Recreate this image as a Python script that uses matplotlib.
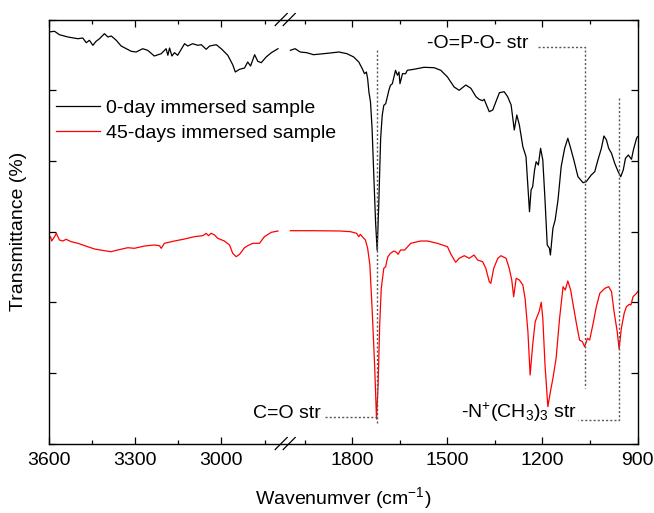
import numpy as np
import matplotlib
matplotlib.use('Agg')
import matplotlib.pyplot as plt

plt.rcParams['font.family'] = ['Liberation Sans', 'DejaVu Sans']
plt.rcParams['mathtext.fontset'] = 'custom'
plt.rcParams['mathtext.rm'] = 'Liberation Sans'
plt.rcParams['mathtext.it'] = 'Liberation Sans:italic'

# 0-day sample, high wavenumber part (left of the break)
wn_black_left = [3600, 3579, 3562, 3533, 3498, 3481, 3469, 3458, 3446, 3435,
                 3423, 3406, 3394, 3382, 3365, 3348, 3313, 3296, 3273, 3256,
                 3233, 3209, 3192, 3186, 3180, 3172, 3163, 3152, 3128, 3117,
                 3100, 3082, 3070, 3053, 3041, 3018, 3001, 2978, 2961, 2952,
                 2937, 2920, 2909, 2899, 2885, 2874, 2862, 2845, 2827, 2804]
t_black_left = [413, 413.7, 410.3, 408, 406.3, 407, 402.3, 404.7, 399.7, 403.7,
                406.3, 411.3, 408, 409, 404.7, 399, 393.7, 393, 396.3, 394.7,
                389, 391.3, 396.3, 389.7, 397, 389, 392.3, 389.7, 401.3, 399,
                401.3, 399.7, 400.3, 395.7, 399, 400.3, 396.3, 389.7, 380.3, 373,
                375.7, 377, 383, 379, 390.3, 383.7, 382.3, 388, 392.3, 396.3]

# 0-day sample, fingerprint part (right of the break)
wn_black_right = [1996, 1981, 1965, 1944, 1923, 1901, 1870, 1843, 1817, 1796,
                  1780, 1769, 1762, 1756, 1752, 1748, 1743, 1738, 1733, 1727,
                  1722, 1717, 1711, 1706, 1701, 1695, 1690, 1685, 1680, 1674,
                  1669, 1664, 1658, 1653, 1650, 1642, 1632, 1627, 1606, 1574,
                  1542, 1521, 1500, 1479, 1463, 1442, 1426, 1410, 1400, 1389,
                  1384, 1379, 1368, 1357, 1347, 1336, 1321, 1310, 1299, 1289,
                  1281, 1273, 1262, 1252, 1241, 1236, 1231, 1225, 1220, 1213,
                  1206, 1199, 1192, 1185, 1178, 1175, 1167, 1160, 1151, 1141,
                  1130, 1120, 1111, 1101, 1088, 1072, 1062, 1046, 1035, 1025,
                  1014, 1006, 998, 991, 982, 972, 961, 953, 945, 938,
                  929, 919, 913, 903, 900]
t_black_right = [394.7, 396.3, 393, 392.3, 390.3, 391, 392, 393, 391.3, 388,
                 383, 376.3, 371.3, 373, 366.3, 353, 343, 316.3, 273, 223,
                 194.7, 239.7, 306.3, 329.7, 339.7, 341.3, 348, 354.7, 359.7, 361.3,
                 368, 374.7, 369.7, 373, 361.3, 371.3, 371.3, 374.7, 375.7, 377.7,
                 377.3, 374.7, 368, 358, 354.7, 360, 356.7, 348.3, 345.7, 344.3,
                 345.7, 341.7, 333.3, 335, 343.3, 352.3, 353.3, 348.3, 340, 315,
                 330, 320, 298.3, 288.3, 233.3, 255, 258.3, 275, 283.3, 280,
                 296.7, 285, 245, 200, 196.7, 190, 216.7, 225, 245, 278.3,
                 296.7, 306.7, 296.7, 285, 268.3, 262.3, 263.3, 270, 273.3, 285,
                 296.7, 309, 305, 296.7, 291.7, 281.7, 273.3, 268.3, 275, 286.7,
                 290, 285.7, 295, 306.7, 308.3]

# 45-days sample
wn_red_left = [3600, 3593, 3589, 3579, 3573, 3562, 3550, 3539, 3521, 3498,
               3464, 3440, 3406, 3383, 3360, 3325, 3302, 3267, 3233, 3215,
               3209, 3198, 3163, 3128, 3094, 3065, 3053, 3045, 3036, 3024,
               3013, 2990, 2972, 2961, 2949, 2937, 2920, 2909, 2891, 2868,
               2851, 2827, 2804]
t_red_left = [206.7, 208.3, 204, 208.3, 211.7, 205, 204, 205.7, 203.3, 201.7,
              198.3, 196, 194.3, 193.3, 195, 197.3, 196.7, 199, 200, 199.3,
              196.7, 201.7, 204, 206, 208.3, 209.3, 211.7, 209.3, 211.7, 210,
              206.7, 204, 200, 191.7, 188.3, 190.7, 197.3, 199.3, 201.7, 201.7,
              208.3, 212.7, 214]

wn_red_right = [1996, 1923, 1838, 1806, 1787, 1780, 1775, 1766, 1759, 1752,
                1745, 1738, 1730, 1724, 1719, 1714, 1709, 1701, 1695, 1692,
                1688, 1680, 1669, 1661, 1656, 1648, 1635, 1616, 1585, 1563,
                1532, 1500, 1489, 1474, 1463, 1447, 1431, 1416, 1405, 1389,
                1379, 1368, 1363, 1354, 1341, 1331, 1315, 1305, 1297, 1291,
                1283, 1273, 1262, 1255, 1246, 1239, 1231, 1223, 1215, 1210,
                1204, 1199, 1192, 1183, 1175, 1167, 1157, 1146, 1135, 1128,
                1120, 1111, 1104, 1093, 1083, 1074, 1067, 1058, 1051, 1040,
                1030, 1019, 1003, 991, 982, 974, 964, 958, 951, 942,
                935, 926, 921, 914, 903, 900]
t_red_right = [214.3, 214.3, 214, 213.3, 211.7, 208.3, 210.7, 207.3, 205, 196.7,
               180, 136.7, 80, 26, 60, 120, 156.7, 176.7, 178.3, 183.3,
               188.3, 191.7, 194, 192.7, 190.7, 195, 195, 201.7, 204, 204,
               201.7, 198.3, 190.7, 182.7, 186.7, 189.3, 186.7, 190, 185, 183.3,
               176.7, 163.3, 161.7, 176.7, 186.7, 189.3, 186.7, 176.7, 165, 148.3,
               166.7, 165, 160, 146.7, 113.3, 70, 100, 123.3, 130, 134,
               142.7, 126.7, 80, 38.3, 53.3, 66.7, 86.7, 126.7, 158.3, 155,
               164, 155, 141.7, 121.7, 105, 103.3, 98.3, 106.7, 105, 121.7,
               138.3, 151.7, 156.7, 158.3, 153.3, 133.3, 113.3, 96, 116.7, 131.7,
               138.3, 140.7, 140, 148.3, 151.7, 153.3]

labels = ['0-day immersed sample', '45-days immersed sample']
major_ticks = [3600, 3300, 3000, 1800, 1500, 1200, 900]
minor_ticks = [3450, 3150, 2850, 1950, 1650, 1350, 1050]

# broken axis: 2000-2790 cm-1 squeezed out
brk_w = [900, 2000, 2790, 3600]
brk_u = [0, 348.4, 355.5, 589]


def fwd(w):
    return np.interp(w, brk_w, brk_u)


def inv(u):
    return np.interp(u, brk_u, brk_w)


fig = plt.figure(figsize=(6.54, 5.13), dpi=100)
ax = fig.add_axes([48.5 / 654, 1 - 443.5 / 513, 589 / 654, 424 / 513])
ax.set_xscale('function', functions=(fwd, inv))

ax.plot(wn_black_left, t_black_left, color='black', lw=0.9, label=labels[0])
ax.plot(wn_black_right, t_black_right, color='black', lw=0.9)
ax.plot(wn_red_left, t_red_left, color='red', lw=0.9, label=labels[1])
ax.plot(wn_red_right, t_red_right, color='red', lw=0.9)

ax.set_xlim(3600, 900)
ax.set_ylim(1.5, 425.5)
ax.set_xticks(major_ticks)
ax.set_xticklabels([str(v) for v in major_ticks])
ax.set_xticks(minor_ticks, minor=True)
ax.set_yticks(np.linspace(1.5, 425.5, 7))
ax.set_yticklabels([])
ax.tick_params(which='both', direction='in', top=True, right=True, width=0.9)
ax.tick_params(which='major', length=5, labelsize=14, pad=6)
ax.tick_params(which='minor', length=3)
for s in ax.spines.values():
    s.set_linewidth(1.0)

# break marks
for xc in (0.395, 0.4086):
    for yc in (0, 1):
        ax.plot([xc - 0.0102, xc + 0.0102], [yc - 0.0142, yc + 0.0142],
                transform=ax.transAxes, color='black', lw=0.9, clip_on=False)

# band assignments
dot = dict(color='0.35', lw=1.0, linestyle=(0, (1.5, 1.5)))
ax.plot([1723, 1723], [22, 395], **dot)
ax.plot([1886, 1723], [28.5, 28.5], **dot)
ax.text(1901, 32, 'C=O str', fontsize=14, ha='right', va='center')

ax.plot([1214, 1065, 1065], [398.3, 398.3, 57], **dot)
ax.text(1245, 402, '-O=P-O- str', fontsize=14, ha='right', va='center')

ax.plot([958, 958, 1087], [347, 25, 25], **dot)
ax.text(1093, 33, r'-N$^{+}$(CH$_{3}$)$_{3}$ str', fontsize=14, ha='right', va='center')

ax.legend(frameon=False, loc='upper left', bbox_to_anchor=(0.012, 0.811),
          fontsize=14, handlelength=2.3, handletextpad=0.3, labelspacing=0.36,
          borderaxespad=0, borderpad=0)

ax.set_xlabel(r'Wavenumver (cm$^{-1}$)', fontsize=14)
ax.set_ylabel('Transmittance (%)', fontsize=14)
ax.xaxis.set_label_coords(0.5, -0.098)
ax.yaxis.set_label_coords(-0.037, 0.5)

fig.savefig('out.png', dpi=100)
